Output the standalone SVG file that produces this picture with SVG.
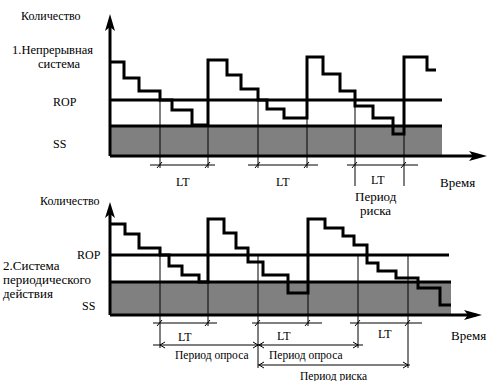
<svg xmlns="http://www.w3.org/2000/svg" width="500" height="381" viewBox="0 0 500 381">
<style>
text{fill:#000;font-size:13px}
.s12{font-size:12px}
.s125{font-size:12.5px}
.s11{font-size:11.5px}
.thick{stroke:#000;stroke-width:3;fill:none}
.thin{stroke:#000;stroke-width:1;fill:none}
.grey{fill:#808080}
.arr{fill:#000}
</style>
<defs>
<path id="tick" d="M-3,3 L2,-3" stroke="#000" stroke-width="1" fill="none"/>
<path id="al" d="M5,-3 L0,0 L5,3" stroke="#000" stroke-width="1" fill="none"/>
<path id="ar" d="M-5,-3 L0,0 L-5,3" stroke="#000" stroke-width="1" fill="none"/>
</defs>
<rect width="500" height="381" fill="#fff"/>

<g id="chart1">
<rect class="grey" x="110" y="126" width="332" height="30"/>
<line class="thick" x1="110" y1="100" x2="442" y2="100"/>
<line class="thick" x1="110" y1="126" x2="442" y2="126"/>
<line class="thick" x1="110" y1="156" x2="480" y2="156"/>
<line class="thick" x1="110" y1="156" x2="110" y2="22"/>
<polygon class="arr" points="110,14 115,31 110,27 105,31"/>
<polygon class="arr" points="487,156 469,151 473,156 469,161"/>
<path class="thick" d="M110,62 H124 V78 H139 V91 H160 V100 H172 V110 H192 V125 H208 V60 H227 V75 H241 V89 H258 V100 H267 V109 H284 V118 H307 V57 H323 V74 H340 V91 H355 V106 H373 V118 H393 V134 H404 V57 H427 V70 H436"/>
</g>

<g id="chart2">
<rect class="grey" x="110" y="282" width="341" height="33"/>
<line class="thick" x1="110" y1="255" x2="449" y2="255"/>
<line class="thick" x1="110" y1="282" x2="451" y2="282"/>
<line class="thick" x1="110" y1="315" x2="476" y2="315"/>
<line class="thick" x1="110" y1="315" x2="110" y2="210"/>
<polygon class="arr" points="110,202 115,218 110,214 105,218"/>
<polygon class="arr" points="482,315 464,310 468,315 464,320"/>
<path class="thick" d="M110,224 H125 V234 H139 V248 H160 V255 H169 V266 H182 V275 H199 V282 H208 V219 H224 V233 H236 V248 H248 V262 H263 V275 H288 V293 H308 V219 H325 V228 H343 V236 H354 V245 H367 V263 H378 V271 H396 V278 H418 V288 H440 V305 H451"/>
</g>

<g id="connectors">
<path class="thin" d="M160,100 V168 M208,100 V168 M258,100 V168 M307,100 V168 M355,100 V186 M404,100 V186"/>
<path class="thin" d="M150,165 H215 M248,165 H318 M347,165 H418"/>
<use href="#tick" x="160" y="165"/><use href="#tick" x="208" y="165"/>
<use href="#tick" x="258" y="165"/><use href="#tick" x="307" y="165"/>
<use href="#tick" x="355" y="165"/><use href="#tick" x="404" y="165"/>

<path class="thin" d="M160,255 V348 M208,282 V326 M258,255 V368 M308,282 V326 M358,255 V348 M408,255 V368"/>
<path class="thin" d="M153,323 H217 M252,323 H322 M350,323 H422"/>
<use href="#tick" x="160" y="323"/><use href="#tick" x="208" y="323"/>
<use href="#tick" x="258" y="323"/><use href="#tick" x="308" y="323"/>
<use href="#tick" x="358" y="323"/><use href="#tick" x="408" y="323"/>

<path class="thin" d="M153,345 H262 M258,345 H363 M258,365 H410"/>
<use href="#al" x="160" y="345"/><use href="#ar" x="258" y="345"/>
<use href="#al" x="259" y="345"/><use href="#ar" x="358" y="345"/>
<use href="#al" x="259" y="365"/><use href="#ar" x="408" y="365"/>
</g>

<g id="labels1" font-family="Liberation Serif, DejaVu Serif, serif">
<text x="21" y="20" class="s12">Количество</text>
<text x="12" y="54" class="s125">1.Непрерывная</text>
<text x="38" y="68" class="s125">система</text>
<text x="53" y="106" class="s12">ROP</text>
<text x="53" y="148" class="s12">SS</text>
<text x="176" y="186" class="s12">LT</text>
<text x="276" y="186" class="s12">LT</text>
<text x="371" y="184" class="s12">LT</text>
<text x="440" y="187">Время</text>
<text x="355" y="201">Период</text>
<text x="360" y="215">риска</text>
</g>

<g id="labels2" font-family="Liberation Serif, DejaVu Serif, serif">
<text x="40" y="205" class="s12">Количество</text>
<text x="77" y="259" class="s12">ROP</text>
<text x="82" y="310" class="s12">SS</text>
<text x="3" y="270">2.Система</text>
<text x="3" y="284">периодического</text>
<text x="3" y="298">действия</text>
<text x="178" y="341" class="s12">LT</text>
<text x="277" y="340" class="s12">LT</text>
<text x="378" y="338" class="s12">LT</text>
<text x="451" y="340">Время</text>
<text x="175" y="359" class="s11">Период опроса</text>
<text x="269" y="359" class="s11">Период опроса</text>
<text x="300" y="380" class="s11">Период риска</text>
</g>
</svg>
